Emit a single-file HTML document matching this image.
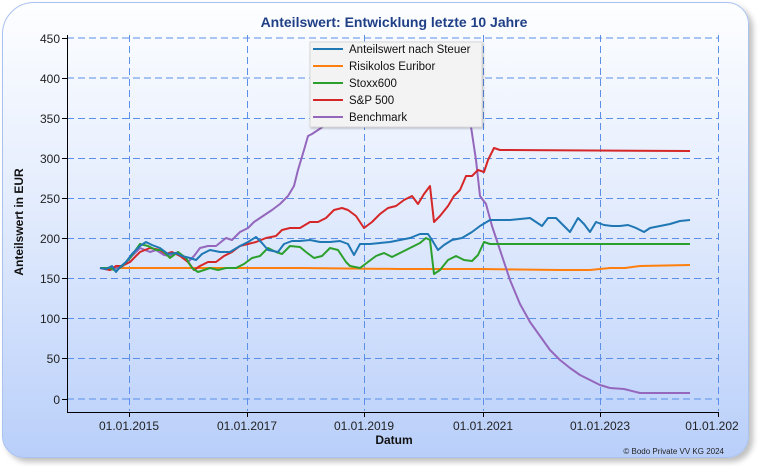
<!DOCTYPE html>
<html><head><meta charset="utf-8"><style>
body{margin:0;background:#fff;width:763px;height:466px;overflow:hidden;font-family:"Liberation Sans",sans-serif}
.card{position:absolute;left:2px;top:2px;width:745px;height:454px;border:1px solid #a9c2f0;border-radius:4px 22px 22px 22px;border-top-left-radius:32px;background:linear-gradient(#fdfeff 0%,#e3ecfd 45%,#b9cffa 100%);box-shadow:4px 4px 6px rgba(0,0,0,0.25)}
</style></head><body>
<div class="card"></div>
<svg width="763" height="466" style="position:absolute;left:0;top:0" font-family="Liberation Sans, sans-serif">
<text x="394" y="27" text-anchor="middle" font-size="14" font-weight="bold" fill="#1f3f86">Anteilswert: Entwicklung letzte 10 Jahre</text>
<g stroke="#5b8fe8" stroke-dasharray="7,4" stroke-width="1">
<line x1="67" x2="718" y1="38" y2="38"/><line x1="67" x2="718" y1="78" y2="78"/><line x1="67" x2="718" y1="118.5" y2="118.5"/><line x1="67" x2="718" y1="158.5" y2="158.5"/><line x1="67" x2="718" y1="198.5" y2="198.5"/><line x1="67" x2="718" y1="238.5" y2="238.5"/><line x1="67" x2="718" y1="278.5" y2="278.5"/><line x1="67" x2="718" y1="318.5" y2="318.5"/><line x1="67" x2="718" y1="358.5" y2="358.5"/><line x1="67" x2="718" y1="399" y2="399"/>
<line x1="129.5" x2="129.5" y1="35" y2="411"/><line x1="247.5" x2="247.5" y1="35" y2="411"/><line x1="364.5" x2="364.5" y1="35" y2="411"/><line x1="483.5" x2="483.5" y1="35" y2="411"/><line x1="600.5" x2="600.5" y1="35" y2="411"/><line x1="718.5" x2="718.5" y1="35" y2="411"/>
</g>
<g stroke="#000" stroke-width="1">
<line x1="67.5" x2="67.5" y1="35" y2="412"/><line x1="67" x2="719" y1="412.5" y2="412.5"/>
<path d="M62 38.5h5M62 78.5h5M62 118.5h5M62 158.5h5M62 198.5h5M62 238.5h5M62 278.5h5M62 318.5h5M62 358.5h5M62 399.5h5M129.5 412v5M247.5 412v5M364.5 412v5M483.5 412v5M600.5 412v5M718.5 412v5"/>
</g>
<g font-size="12" fill="#222" text-anchor="end">
<text x="60" y="43">450</text><text x="60" y="83">400</text><text x="60" y="123">350</text><text x="60" y="163">300</text><text x="60" y="203">250</text><text x="60" y="243">200</text><text x="60" y="283">150</text><text x="60" y="323">100</text><text x="60" y="363">50</text><text x="60" y="404">0</text>
</g>
<g font-size="12" fill="#222" text-anchor="middle">
<text x="129" y="430">01.01.2015</text><text x="247" y="430">01.01.2017</text><text x="364" y="430">01.01.2019</text><text x="483" y="430">01.01.2021</text><text x="600" y="430">01.01.2023</text><text x="712" y="430">01.01.202</text>
</g>
<text x="394" y="444" text-anchor="middle" font-size="12" font-weight="bold" fill="#111">Datum</text>
<text transform="translate(23,222) rotate(-90)" text-anchor="middle" font-size="12" font-weight="bold" fill="#111">Anteilswert in EUR</text>
<text x="724" y="454" text-anchor="end" font-size="8" fill="#222">© Bodo Private VV KG 2024</text>
<g fill="none" stroke-width="2" stroke-linejoin="round">
<polyline stroke="#ff7f0e" points="100,268 200,268 300,268 400,269 480,269 560,270 590,270 610,268 625,268 640,266 690,265"/>
<polyline stroke="#9467bd" points="100,268 110,270 116,268 122,267 130,258 140,248 150,252 156,250 164,255 170,256 178,252 188,262 194,256 200,248 208,246 216,246 226,238 232,240 240,232 248,228 254,222 260,218 266,214 272,210 280,204 288,196 294,186 298,170 304,150 308,136 312,134 318,130 324,126 330,120 340,116 360,110 400,90 440,80 466,90 470,120 476,160 480,196 486,204 492,226 500,250 510,280 520,304 530,322 540,336 550,350 560,360 570,368 580,375 590,380 600,385 610,388 624,389 640,393 660,393 690,393"/>
<polyline stroke="#d62728" points="100,268 110,270 116,266 122,266 130,262 140,252 150,248 160,250 166,254 172,252 180,256 188,262 194,270 200,266 208,262 216,262 224,256 232,252 240,246 248,244 256,242 266,238 276,236 282,230 290,228 300,228 310,222 318,222 326,218 334,210 342,208 348,210 356,216 364,228 372,222 380,214 388,208 396,206 404,200 412,196 418,204 424,194 430,186 434,222 440,216 448,206 454,196 460,190 466,176 472,176 478,170 484,172 488,160 494,148 500,150 690,151"/>
<polyline stroke="#2ca02c" points="100,268 110,268 116,271 122,266 130,258 140,244 148,246 156,250 162,250 170,258 178,252 186,258 192,268 198,272 204,270 210,268 218,270 226,268 236,268 244,264 252,258 260,256 268,248 276,252 282,254 290,246 300,247 306,252 314,258 322,256 330,248 338,250 346,262 350,266 360,268 368,262 376,256 384,253 392,257 400,253 406,250 414,246 420,243 426,238 430,240 434,274 440,270 448,260 456,256 464,260 472,261 478,255 484,242 490,244 690,244"/>
<polyline stroke="#1f77b4" points="100,268 106,269 112,266 116,272 120,267 126,262 132,254 140,246 146,242 152,245 160,248 168,254 176,253 182,256 190,258 196,260 202,254 210,250 220,252 230,252 240,246 248,242 256,237 262,243 268,250 278,252 284,244 292,241 300,241 310,240 320,242 330,242 340,241 348,244 354,255 360,244 370,244 380,243 390,242 400,240 410,238 420,234 428,234 432,240 438,250 444,245 452,240 462,238 472,232 480,226 490,220 500,220 510,220 520,219 530,218 536,222 542,226 548,218 556,218 564,226 570,232 578,218 584,224 590,232 596,222 604,225 612,226 620,226 628,225 636,228 644,232 650,228 660,226 670,224 680,221 690,220"/>
</g>
<rect x="310" y="42" width="172" height="85" fill="#f3f3f3" stroke="#d8d8d8" style="filter:drop-shadow(1px 1px 1px rgba(0,0,0,.25))"/>
<g stroke-width="2">
<line x1="313" x2="343" y1="49" y2="49" stroke="#1f77b4"/><line x1="313" x2="343" y1="66" y2="66" stroke="#ff7f0e"/><line x1="313" x2="343" y1="83" y2="83" stroke="#2ca02c"/><line x1="313" x2="343" y1="100" y2="100" stroke="#d62728"/><line x1="313" x2="343" y1="117" y2="117" stroke="#9467bd"/>
</g>
<g font-size="11.5" fill="#111">
<text x="349" y="53">Anteilswert nach Steuer</text><text x="349" y="70">Risikolos Euribor</text><text x="349" y="87">Stoxx600</text><text x="349" y="104">S&amp;P 500</text><text x="349" y="121">Benchmark</text>
</g>
</svg>
</body></html>
